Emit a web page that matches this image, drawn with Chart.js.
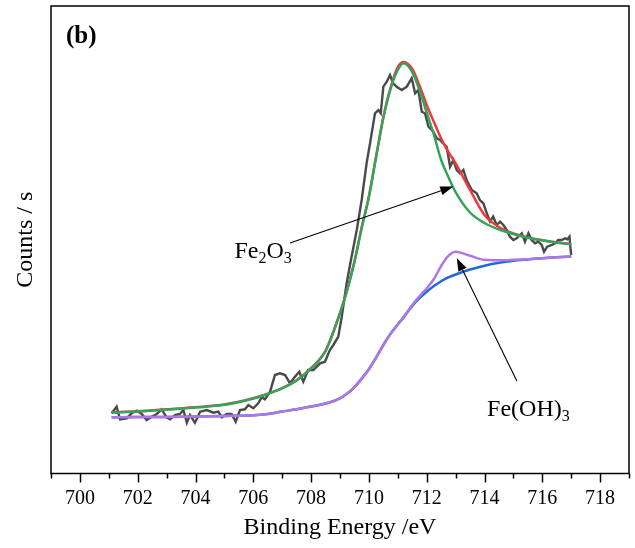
<!DOCTYPE html>
<html>
<head>
<meta charset="utf-8">
<script src="https://cdn.jsdelivr.net/npm/chart.js@4.4.1/dist/chart.umd.min.js"></script>
<style>
  body { margin: 0; background: #fff; }
  canvas { display: block; }
</style>
</head>
<body>
<canvas id="xps" width="635" height="548"></canvas>
<script>
// Fe 2p XPS region, counts in arbitrary units (0-100)
const xTicks = [700, 702, 704, 706, 708, 710, 712, 714, 716, 718];

// measured spectrum
const rawEnergy = [
  701.10, 701.27, 701.39, 701.62, 701.79, 701.97, 702.14, 702.31, 702.48, 702.66,
  702.83, 703.00, 703.12, 703.29, 703.46, 703.58, 703.70, 703.81, 703.98, 704.16,
  704.39, 704.62, 704.79, 704.91, 705.08, 705.25, 705.39, 705.54, 705.71, 705.83,
  706.00, 706.17, 706.29, 706.40, 706.58, 706.75, 706.92, 707.10, 707.27, 707.44,
  707.59, 707.73, 707.90, 708.08, 708.31, 708.48, 708.65, 708.77, 708.94, 709.06,
  709.23, 709.40, 709.58, 709.75, 709.92, 710.04, 710.21, 710.33, 710.41, 710.50,
  710.62, 710.73, 710.84, 710.96, 711.14, 711.31, 711.48, 711.60, 711.71, 711.83,
  711.94, 712.06, 712.23, 712.35, 712.46, 712.57, 712.69, 712.81, 712.92, 713.04,
  713.15, 713.27, 713.38, 713.56, 713.73, 713.84, 713.96, 714.08, 714.19, 714.30,
  714.42, 714.54, 714.65, 714.77, 714.88, 715.00, 715.11, 715.29, 715.40, 715.52,
  715.63, 715.75, 715.86, 715.98, 716.06, 716.17, 716.33, 716.44, 716.55, 716.67,
  716.79, 716.87, 716.94, 716.98, 717.00
];
const rawCounts = [
  12.88, 14.29, 11.59, 11.81, 12.88, 13.43, 12.73, 11.44, 12.15, 12.73,
  13.73, 12.02, 11.59, 12.51, 12.73, 13.58, 10.87, 12.51, 10.87, 13.22,
  13.58, 13.01, 13.22, 12.02, 12.73, 12.73, 11.08, 13.58, 13.73, 14.65,
  13.95, 15.02, 16.30, 15.87, 17.50, 21.07, 21.43, 21.07, 19.29, 20.71,
  21.78, 19.64, 22.14, 22.14, 23.57, 23.91, 26.42, 27.49, 29.26, 33.54,
  40.68, 46.37, 52.08, 58.50, 66.35, 70.63, 77.05, 77.75, 77.05, 82.74,
  83.81, 85.24, 83.46, 82.74, 82.03, 82.74, 84.53, 81.32, 82.03, 77.39,
  77.05, 74.18, 73.11, 71.70, 71.34, 70.63, 69.90, 65.62, 67.06, 64.92,
  64.21, 64.92, 62.78, 60.64, 59.94, 58.50, 57.80, 55.66, 53.86, 54.93,
  53.15, 53.86, 53.15, 52.08, 50.65, 49.95, 50.31, 51.38, 49.58, 51.38,
  49.95, 49.24, 49.58, 48.88, 47.44, 48.51, 48.88, 49.24, 49.95, 49.95,
  50.31, 50.10, 50.65, 47.81, 46.74
];

// fitted components, shared energy grid
const fitEnergy = [
  701.1, 702, 703, 704, 705, 706, 706.5, 707, 707.5, 708,
  708.5, 709, 709.25, 709.5, 709.75, 710, 710.25, 710.5, 710.75, 711,
  711.2, 711.5, 711.75, 712, 712.25, 712.5, 712.75, 713, 713.5, 714,
  714.5, 715, 715.5, 716, 716.5, 717
];
const envelope = [
  13.08, 13.31, 13.72, 14.17, 14.75, 16.09, 17.06, 18.27, 19.95, 22.52,
  26.27, 34.35, 39.34, 45.34, 52.62, 59.28, 67.86, 76.25, 82.55, 86.95,
  88.02, 86.52, 83.00, 78.82, 75.19, 71.66, 68.77, 66.33, 60.64, 55.30,
  52.73, 51.34, 50.49, 49.90, 49.43, 49.09
];
const fe2o3 = [
  13.03, 13.26, 13.67, 14.12, 14.70, 16.04, 17.01, 18.22, 19.89, 22.46,
  26.20, 34.27, 39.25, 45.24, 52.51, 59.14, 67.70, 76.04, 82.25, 86.31,
  87.75, 85.88, 82.03, 77.22, 72.41, 67.06, 63.42, 60.21, 55.83, 53.58,
  52.19, 51.23, 50.44, 49.88, 49.41, 49.05
];
const feoh3 = [
  12.02, 12.06, 12.11, 12.19, 12.30, 12.45, 12.75, 13.26, 13.75, 14.33,
  14.97, 16.09, 17.10, 18.50, 20.30, 22.29, 24.80, 27.49, 29.90, 31.87,
  33.45, 36.04, 37.90, 39.62, 41.60, 44.39, 46.53, 47.45, 46.57, 45.70,
  45.60, 45.70, 45.85, 46.05, 46.25, 46.42
];
const background = [
  12.02, 12.06, 12.11, 12.19, 12.30, 12.45, 12.75, 13.26, 13.75, 14.33,
  14.97, 16.09, 17.10, 18.50, 20.30, 22.29, 24.80, 27.49, 29.90, 31.87,
  33.40, 35.83, 37.50, 38.89, 40.10, 41.13, 41.95, 42.57, 43.64, 44.45,
  45.07, 45.50, 45.78, 46.05, 46.25, 46.42
];

// annotation anchors in data space: [label x, label y, line start x, y, arrow tip x, y]
const fe2o3Note = [705.35, 46.1, 707.27, 49.3, 712.92, 61.4];
const feoh3Note = [714.09, 12.3, 715.12, 19.8, 713.04, 46.1];

const serif = "'Liberation Serif', 'Times New Roman', serif";

function pairs(xs, ys) {
  return xs.map((x, i) => ({ x: x, y: ys[i] }));
}

function drawArrow(ctx, x1, y1, x2, y2) {
  const ang = Math.atan2(y2 - y1, x2 - x1);
  const len = 13, half = 4.5;
  const bx = x2 - len * Math.cos(ang), by = y2 - len * Math.sin(ang);
  ctx.beginPath();
  ctx.moveTo(x1, y1);
  ctx.lineTo(bx, by);
  ctx.stroke();
  ctx.beginPath();
  ctx.moveTo(x2, y2);
  ctx.lineTo(bx + half * Math.sin(ang), by - half * Math.cos(ang));
  ctx.lineTo(bx - half * Math.sin(ang), by + half * Math.cos(ang));
  ctx.closePath();
  ctx.fill();
}

// text with subscripts: parts = [[text, isSub], ...]
function drawFormula(ctx, parts, x, y) {
  let cx = x;
  parts.forEach(([t, sub]) => {
    ctx.font = (sub ? "16px " : "24px ") + serif;
    ctx.fillText(t, cx, sub ? y + 5 : y);
    cx += ctx.measureText(t).width;
  });
}

const framePlugin = {
  id: "frame",
  afterDraw(chart) {
    const { ctx, chartArea: a, scales: { x, y } } = chart;
    ctx.save();
    ctx.strokeStyle = "#000";
    ctx.fillStyle = "#000";
    ctx.lineWidth = 1.5;
    ctx.strokeRect(a.left, a.top, a.right - a.left, a.bottom - a.top);

    // outward ticks, minor on odd values
    for (let v = Math.ceil(x.min); v <= x.max; v++) {
      const px = Math.round(x.getPixelForValue(v)) + 0.5;
      ctx.beginPath();
      ctx.moveTo(px, a.bottom);
      ctx.lineTo(px, a.bottom + (v % 2 === 0 ? 9 : 5));
      ctx.stroke();
    }

    ctx.font = "bold 25px " + serif;
    ctx.textBaseline = "alphabetic";
    ctx.fillText("(b)", a.left + 15, a.top + 37);

    ctx.lineWidth = 1.1;
    const n1 = fe2o3Note;
    drawArrow(ctx, x.getPixelForValue(n1[2]), y.getPixelForValue(n1[3]),
      x.getPixelForValue(n1[4]), y.getPixelForValue(n1[5]));
    drawFormula(ctx, [["Fe", false], ["2", true], ["O", false], ["3", true]],
      x.getPixelForValue(n1[0]), y.getPixelForValue(n1[1]));

    const n2 = feoh3Note;
    drawArrow(ctx, x.getPixelForValue(n2[2]), y.getPixelForValue(n2[3]),
      x.getPixelForValue(n2[4]), y.getPixelForValue(n2[5]));
    drawFormula(ctx, [["Fe(OH)", false], ["3", true]],
      x.getPixelForValue(n2[0]), y.getPixelForValue(n2[1]));
    ctx.restore();
  },
};

function line(label, data, color, width) {
  return {
    label: label,
    data: data,
    borderColor: color,
    borderWidth: width,
    pointRadius: 0,
    fill: false,
    cubicInterpolationMode: "monotone",
  };
}

new Chart(document.getElementById("xps"), {
  type: "line",
  data: {
    datasets: [
      line("Fe2O3", pairs(fitEnergy, fe2o3), "#35a35a", 2.5),
      line("Envelope", pairs(fitEnergy, envelope), "#ee3a3a", 2.5),
      line("Fe(OH)3", pairs(fitEnergy, feoh3), "#ad78e3", 2.5),
      line("Background", pairs(fitEnergy, background), "#2368d8", 2.5),
      Object.assign(line("Raw", pairs(rawEnergy, rawCounts), "#4a4a4a", 2.4), {
        cubicInterpolationMode: "default",
        tension: 0,
      }),
    ],
  },
  options: {
    responsive: false,
    animation: false,
    layout: { padding: { top: 6, right: 6, left: 0, bottom: 0 } },
    plugins: { legend: { display: false }, tooltip: { enabled: false } },
    scales: {
      x: {
        type: "linear",
        min: 699,
        max: 719,
        afterBuildTicks: (s) => { s.ticks = xTicks.map((v) => ({ value: v })); },
        afterFit: (s) => { s.height = 74.5; },
        grid: { display: false, drawTicks: false },
        border: { display: false },
        ticks: {
          color: "#000",
          padding: 13,
          maxRotation: 0,
          font: { family: serif, size: 20 },
          callback: (v) => String(v),
        },
        title: {
          display: true,
          text: "Binding Energy /eV",
          color: "#000",
          font: { family: serif, size: 24 },
          padding: { top: 0, bottom: 6 },
        },
      },
      y: {
        min: 0,
        max: 100,
        afterFit: (s) => { s.width = 51; },
        grid: { display: false, drawTicks: false },
        border: { display: false },
        ticks: { display: false },
        title: {
          display: true,
          text: "Counts / s",
          color: "#000",
          font: { family: serif, size: 24 },
          padding: { top: 11, bottom: 0 },
        },
      },
    },
  },
  plugins: [framePlugin],
});
</script>
</body>
</html>
